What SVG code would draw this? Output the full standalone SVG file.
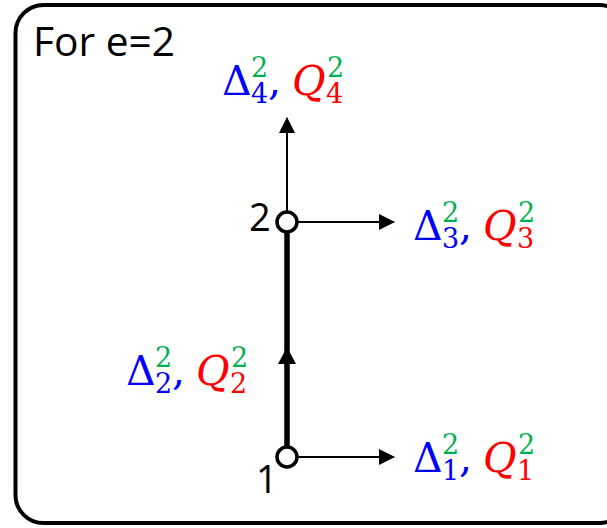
<svg xmlns="http://www.w3.org/2000/svg" width="607" height="528" viewBox="0 0 607 528">
<defs>
<marker id="ah" markerWidth="16" markerHeight="16" viewBox="0 0 16 16" refX="15" refY="8" orient="auto" markerUnits="userSpaceOnUse">
<path d="M0,0 L16,8 L0,16 Z" fill="#000"/>
</marker>
</defs>
<style>
.frame{fill:#fff;stroke:#000;stroke-width:4}
.thin{stroke:#000;stroke-width:2;fill:none}
.thick{stroke:#000;stroke-width:5.5;fill:none}
.node{fill:#fff;stroke:#000;stroke-width:3.5}
.lbl{font-family:"Open Sans","Liberation Sans",sans-serif;fill:#000}
.m{font-family:"DejaVu Serif","Liberation Serif",serif}
.big{font-size:41px}
.sm{font-size:27px}
.b{fill:#0000FF}
.r{fill:#FF0000}
.g{fill:#00B050}
.it{font-style:italic}
</style>
<rect class="frame" x="15.5" y="5" width="612" height="518" rx="28"/>
<text class="lbl" x="33" y="56" font-size="40" textLength="142" lengthAdjust="spacingAndGlyphs">For e=2</text>
<g id="connectors">
<line class="thick" x1="287" y1="446" x2="287" y2="232"/>
<path d="M278,364 L287,347 L296,364 Z" fill="#000"/>
<line class="thin" x1="287" y1="212" x2="287" y2="118" marker-end="url(#ah)"/>
<line class="thin" x1="297" y1="222" x2="394" y2="222" marker-end="url(#ah)"/>
<line class="thin" x1="297" y1="457" x2="394" y2="457" marker-end="url(#ah)"/>
</g>
<g id="node1">
<circle class="node" cx="287" cy="457" r="10"/>
<text class="lbl" x="256" y="493" font-size="38">1</text>
</g>
<g id="node2">
<circle class="node" cx="287" cy="222" r="10"/>
<text class="lbl" x="249" y="231" font-size="38">2</text>
</g>
<g id="label4" transform="translate(222,95)">
<text class="m"><tspan class="big b" x="0" y="0">Δ</tspan><tspan class="sm g" x="29" y="-18">2</tspan><tspan class="sm b" x="29" y="8">4</tspan><tspan class="big b" x="46" y="0">,</tspan><tspan class="big r it" x="70" y="0">Q</tspan><tspan class="sm r" x="104" y="8">4</tspan><tspan class="sm g" x="105" y="-18">2</tspan></text>
</g>
<g id="label3" transform="translate(413,240)">
<text class="m"><tspan class="big b" x="0" y="0">Δ</tspan><tspan class="sm g" x="29" y="-18">2</tspan><tspan class="sm b" x="29" y="8">3</tspan><tspan class="big b" x="46" y="0">,</tspan><tspan class="big r it" x="70" y="0">Q</tspan><tspan class="sm r" x="104" y="8">3</tspan><tspan class="sm g" x="105" y="-18">2</tspan></text>
</g>
<g id="label2" transform="translate(126,385)">
<text class="m"><tspan class="big b" x="0" y="0">Δ</tspan><tspan class="sm g" x="29" y="-18">2</tspan><tspan class="sm b" x="29" y="8">2</tspan><tspan class="big b" x="46" y="0">,</tspan><tspan class="big r it" x="70" y="0">Q</tspan><tspan class="sm r" x="104" y="8">2</tspan><tspan class="sm g" x="105" y="-18">2</tspan></text>
</g>
<g id="label1" transform="translate(413,472)">
<text class="m"><tspan class="big b" x="0" y="0">Δ</tspan><tspan class="sm g" x="29" y="-18">2</tspan><tspan class="sm b" x="29" y="8">1</tspan><tspan class="big b" x="46" y="0">,</tspan><tspan class="big r it" x="70" y="0">Q</tspan><tspan class="sm r" x="104" y="8">1</tspan><tspan class="sm g" x="105" y="-18">2</tspan></text>
</g>
</svg>
